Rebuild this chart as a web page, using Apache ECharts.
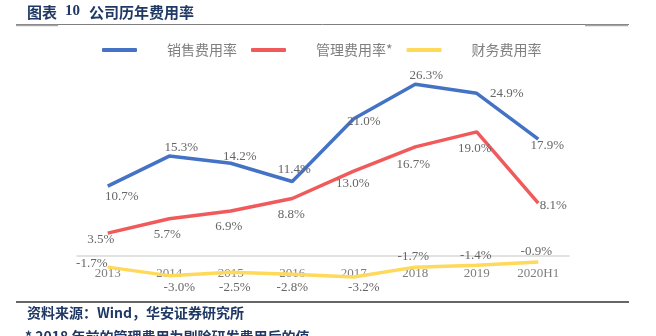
<!DOCTYPE html>
<html><head><meta charset="utf-8">
<script src="https://cdn.jsdelivr.net/npm/echarts@6/dist/echarts.min.js"></script>
<style>html,body{margin:0;padding:0;background:#fff}#c{width:656px;height:336px}</style>
</head><body><div id="c"></div>
<script>
const categories = ['2013','2014','2015','2016','2017','2018','2019','2020H1'];
const seriesNames = ['销售费用率','管理费用率*','财务费用率'];
const salesRate = [10.7, 15.3, 14.2, 11.4, 21.0, 26.3, 24.9, 17.9];
const adminRate = [3.5, 5.7, 6.9, 8.8, 13.0, 16.7, 19.0, 8.1];
const financeRate = [-1.7, -3.0, -2.5, -2.8, -3.2, -1.7, -1.4, -0.9];

// label offsets (style only)
const salesLabelOffset = [[14,10],[12,-8],[9,-7],[2,-12],[10,3],[11,-9],[30,0],[9,7]];
const adminLabelOffset = [[-7,6],[-2,16],[-2,16],[-1,16],[-1,12],[-2,18],[-2,17],[15,2]];
const financeLabelOffset = [[-16,-4],[10,12],[4,15],[0,13],[10,11],[-2,-11],[-1,-10],[-2,-10]];

const colors = ['#4472C4','#F05A5A','#FFD95A'];
const labelFont = {fontFamily:'Liberation Serif', fontSize:13, color:'#666666'};

function build(values, offsets){
  return values.map((v,i)=>({value:v, label:{offset:offsets[i]}}));
}
function mkSeries(name, values, offsets, color){
  return {
    name, type:'line', data:build(values, offsets),
    symbol:'circle', symbolSize:0.01, showSymbol:true,
    itemStyle:{color:color},
    lineStyle:{color:color, width:3.5},
    label:{show:true, position:'inside', formatter:p=>p.value.toFixed(1)+'%', ...labelFont},
    emphasis:{disabled:true}, animation:false
  };
}

const chart = echarts.init(document.getElementById('c'));
const navy = '#1F3864';
chart.setOption({
  animation:false,
  grid:{left:77, right:87, top:60, bottom:47.3},
  legend:{
    left:97, top:38, itemWidth:35, itemHeight:4, itemGap:14, icon:'roundRect',
    data:seriesNames,
    textStyle:{fontFamily:'Noto Sans CJK SC', fontSize:14, color:'#7f7f7f', padding:[0,0,0,25]}
  },
  xAxis:{
    type:'category', data:categories, boundaryGap:true,
    axisLine:{onZero:true, lineStyle:{color:'#D9D9D9', width:1.5}},
    axisTick:{show:false},
    axisLabel:{margin:-22, fontFamily:'Liberation Serif', fontSize:13, color:'#7f7f7f'},
    splitLine:{show:false}, z:0
  },
  yAxis:{type:'value', min:-5, max:30, show:false, splitLine:{show:false}},
  series:[
    mkSeries(seriesNames[0], salesRate, salesLabelOffset, colors[0]),
    mkSeries(seriesNames[1], adminRate, adminLabelOffset, colors[1]),
    mkSeries(seriesNames[2], financeRate, financeLabelOffset, colors[2])
  ],
  graphic:[
    {type:'text', left:27, top:5, style:{text:'图表', font:'bold 15px "Noto Sans CJK SC"', fill:navy}},
    {type:'text', left:65, top:4, style:{text:'10', font:'bold 15px "Liberation Serif"', fill:navy}},
    {type:'text', left:89, top:5, style:{text:'公司历年费用率', font:'bold 15px "Noto Sans CJK SC"', fill:navy}},
    {type:'line', shape:{x1:16,y1:24.5,x2:629,y2:24.5}, style:{stroke:'#7f7f7f', lineWidth:1}},
    {type:'line', shape:{x1:16,y1:25.5,x2:58,y2:25.5}, style:{stroke:'#a6a6a6', lineWidth:1.5}},
    {type:'line', shape:{x1:585,y1:25.5,x2:628,y2:25.5}, style:{stroke:'#a6a6a6', lineWidth:1.5}},
    {type:'line', shape:{x1:16,y1:302,x2:629,y2:302}, style:{stroke:'#333333', lineWidth:1.5}},
    {type:'text', left:27, top:306, style:{text:'资料来源：Wind，华安证券研究所', font:'bold 14px "Noto Sans CJK SC"', fill:navy}},
    {type:'text', left:25, top:330, style:{text:'* 2018 年前的管理费用为剔除研发费用后的值', font:'bold 14px "Noto Sans CJK SC"', fill:navy}}
  ]
});
</script></body></html>
